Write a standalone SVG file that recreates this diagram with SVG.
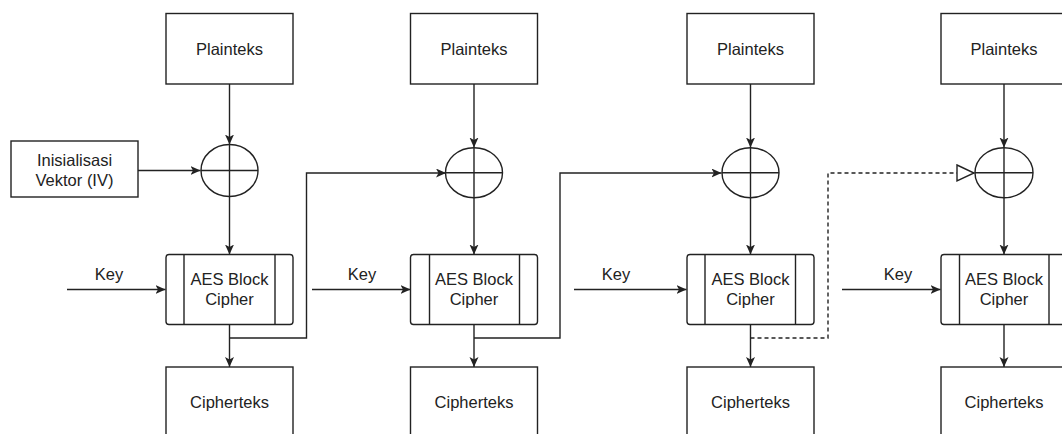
<svg xmlns="http://www.w3.org/2000/svg" width="1062" height="434" viewBox="0 0 1062 434">
<style>
.box{fill:#fff;stroke:#222;stroke-width:1.4}
.ln{fill:none;stroke:#222;stroke-width:1.4}
.dash{fill:none;stroke:#222;stroke-width:1.4;stroke-dasharray:4 3}
.t{font-family:"Liberation Sans",Arial,sans-serif;font-size:16.5px;fill:#222;text-anchor:middle}
</style>
<defs>
<marker id="ah" markerUnits="userSpaceOnUse" markerWidth="12" markerHeight="10" refX="10" refY="4.5" orient="auto" viewBox="0 0 12 10">
<path d="M0,0 L10,4.5 L0,9 L2.5,4.5 z" fill="#222"/>
</marker>
<marker id="oh" markerUnits="userSpaceOnUse" markerWidth="20" markerHeight="20" refX="18" refY="9" orient="auto" viewBox="0 0 20 20">
<path d="M1,1 L18,9 L1,17 z" fill="#fff" stroke="#222" stroke-width="1.4"/>
</marker>
</defs>
<rect width="1062" height="434" fill="#fff"/>

<g id="connectors">
<!-- column 1 -->
<line class="ln" x1="229.5" y1="84" x2="229.5" y2="144.5" marker-end="url(#ah)"/>
<line class="ln" x1="138" y1="170.5" x2="200.5" y2="170.5" marker-end="url(#ah)"/>
<line class="ln" x1="229.5" y1="196.5" x2="229.5" y2="254.5" marker-end="url(#ah)"/>
<line class="ln" x1="67" y1="289.5" x2="165.5" y2="289.5" marker-end="url(#ah)"/>
<line class="ln" x1="229.5" y1="324.5" x2="229.5" y2="367" marker-end="url(#ah)"/>
<polyline class="ln" points="229.5,338 306.5,338 306.5,173 446,173" marker-end="url(#ah)"/>
<!-- column 2 -->
<line class="ln" x1="474" y1="84" x2="474" y2="147.5" marker-end="url(#ah)"/>
<line class="ln" x1="474" y1="198" x2="474" y2="254.5" marker-end="url(#ah)"/>
<line class="ln" x1="312" y1="289.5" x2="410.5" y2="289.5" marker-end="url(#ah)"/>
<line class="ln" x1="474" y1="324.5" x2="474" y2="367" marker-end="url(#ah)"/>
<polyline class="ln" points="474,338 560,338 560,173 721.5,173" marker-end="url(#ah)"/>
<!-- column 3 -->
<line class="ln" x1="750.5" y1="84" x2="750.5" y2="147.5" marker-end="url(#ah)"/>
<line class="ln" x1="750.5" y1="198" x2="750.5" y2="254.5" marker-end="url(#ah)"/>
<line class="ln" x1="574" y1="289.5" x2="686.5" y2="289.5" marker-end="url(#ah)"/>
<line class="ln" x1="750.5" y1="324.5" x2="750.5" y2="367" marker-end="url(#ah)"/>
<polyline class="dash" points="750.5,338 828,338 828,173 974,173" marker-end="url(#oh)"/>
<!-- column 4 -->
<line class="ln" x1="1004" y1="84" x2="1004" y2="147.5" marker-end="url(#ah)"/>
<line class="ln" x1="1004" y1="198" x2="1004" y2="254.5" marker-end="url(#ah)"/>
<line class="ln" x1="842" y1="289.5" x2="940.5" y2="289.5" marker-end="url(#ah)"/>
<line class="ln" x1="1004" y1="324.5" x2="1004" y2="367" marker-end="url(#ah)"/>
</g>

<g id="key-labels">
<text class="t" x="109" y="280">Key</text>
<text class="t" x="362" y="280">Key</text>
<text class="t" x="616" y="280">Key</text>
<text class="t" x="898" y="280">Key</text>
</g>

<g id="iv">
<rect class="box" x="11" y="141" width="127" height="56"/>
<text class="t" x="74.5" y="165.5">Inisialisasi</text>
<text class="t" x="74.5" y="186">Vektor (IV)</text>
</g>

<!-- column 1 nodes -->
<g id="plain1"><rect class="box" x="166" y="13.5" width="127" height="70.5"/><text class="t" x="229.5" y="54.5">Plainteks</text></g>
<g id="xor1"><ellipse class="box" cx="229.5" cy="170.5" rx="28.5" ry="26"/><line class="ln" x1="201" y1="170.5" x2="258" y2="170.5"/><line class="ln" x1="229.5" y1="144.5" x2="229.5" y2="196.5"/></g>
<g id="aes1"><rect class="box" x="166" y="254.5" width="127" height="70" rx="3"/><line class="ln" x1="184" y1="254.5" x2="184" y2="324.5"/><line class="ln" x1="275" y1="254.5" x2="275" y2="324.5"/><text class="t" x="229.5" y="285">AES Block</text><text class="t" x="229.5" y="305">Cipher</text></g>
<g id="cipher1"><rect class="box" x="166" y="367" width="127" height="71"/><text class="t" x="229.5" y="407.5">Cipherteks</text></g>

<!-- column 2 nodes -->
<g id="plain2"><rect class="box" x="410.5" y="13.5" width="127" height="70.5"/><text class="t" x="474" y="54.5">Plainteks</text></g>
<g id="xor2"><ellipse class="box" cx="474" cy="172.7" rx="28.5" ry="25"/><line class="ln" x1="445.5" y1="172.7" x2="502.5" y2="172.7"/><line class="ln" x1="474" y1="147.7" x2="474" y2="197.7"/></g>
<g id="aes2"><rect class="box" x="410.5" y="254.5" width="127" height="70" rx="3"/><line class="ln" x1="429.5" y1="254.5" x2="429.5" y2="324.5"/><line class="ln" x1="519.5" y1="254.5" x2="519.5" y2="324.5"/><text class="t" x="474" y="285">AES Block</text><text class="t" x="474" y="305">Cipher</text></g>
<g id="cipher2"><rect class="box" x="410.5" y="367" width="127" height="71"/><text class="t" x="474" y="407.5">Cipherteks</text></g>

<!-- column 3 nodes -->
<g id="plain3"><rect class="box" x="687" y="13.5" width="127" height="70.5"/><text class="t" x="750.5" y="54.5">Plainteks</text></g>
<g id="xor3"><ellipse class="box" cx="750.5" cy="172.7" rx="28.5" ry="25"/><line class="ln" x1="722" y1="172.7" x2="779" y2="172.7"/><line class="ln" x1="750.5" y1="147.7" x2="750.5" y2="197.7"/></g>
<g id="aes3"><rect class="box" x="687" y="254.5" width="127" height="70" rx="3"/><line class="ln" x1="705" y1="254.5" x2="705" y2="324.5"/><line class="ln" x1="795.5" y1="254.5" x2="795.5" y2="324.5"/><text class="t" x="750.5" y="285">AES Block</text><text class="t" x="750.5" y="305">Cipher</text></g>
<g id="cipher3"><rect class="box" x="687" y="367" width="127" height="71"/><text class="t" x="750.5" y="407.5">Cipherteks</text></g>

<!-- column 4 nodes -->
<g id="plain4"><rect class="box" x="941" y="13.5" width="127" height="70.5"/><text class="t" x="1004" y="54.5">Plainteks</text></g>
<g id="xor4"><ellipse class="box" cx="1004" cy="172.7" rx="29" ry="25"/><line class="ln" x1="975" y1="172.7" x2="1033" y2="172.7"/><line class="ln" x1="1004" y1="147.7" x2="1004" y2="197.7"/></g>
<g id="aes4"><rect class="box" x="941" y="254.5" width="127" height="70" rx="3"/><line class="ln" x1="959.5" y1="254.5" x2="959.5" y2="324.5"/><line class="ln" x1="1049" y1="254.5" x2="1049" y2="324.5"/><text class="t" x="1004" y="285">AES Block</text><text class="t" x="1004" y="305">Cipher</text></g>
<g id="cipher4"><rect class="box" x="941" y="367" width="127" height="71"/><text class="t" x="1004" y="407.5">Cipherteks</text></g>
</svg>
